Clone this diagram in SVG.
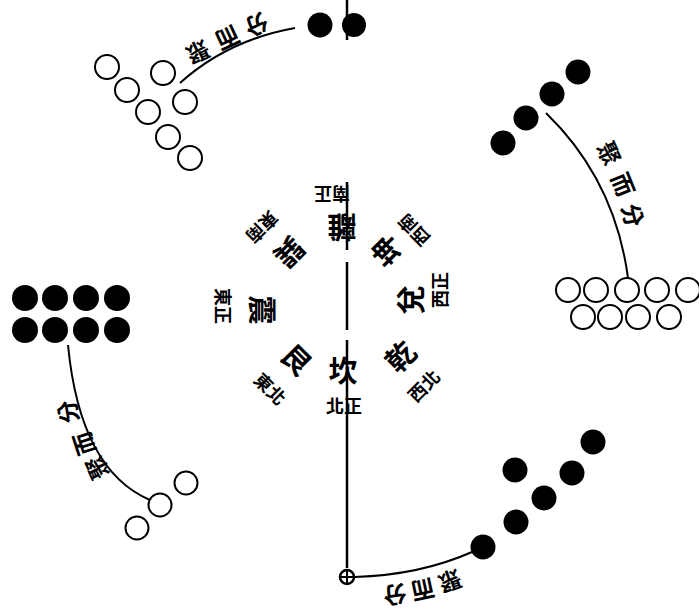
<svg xmlns="http://www.w3.org/2000/svg" width="699" height="615" viewBox="0 0 699 615">
<style>
.bk{fill:#000}
.wh{fill:#fff;stroke:#000;stroke-width:2}
.cv{fill:none;stroke:#000;stroke-width:2}
.ax{fill:none;stroke:#000;stroke-width:2.5}
text{font-family:"Noto Sans CJK TC","Noto Sans CJK SC",sans-serif;font-weight:bold;text-anchor:middle;dominant-baseline:central;fill:#000}
.big{font-size:29px}
.sm{font-size:18px}
.lb{font-size:23px}
</style>
<rect width="699" height="615" fill="#fff"/>
<g id="connectors">
<path class="ax" d="M347,0 V40 M347,182 V250 M347,262 V330 M347,340 V568"/>
<path class="cv" d="M180,83 Q228,40 295,28"/>
<path class="cv" d="M546,113 Q615,180 628,278"/>
<path class="cv" d="M68,345 Q80,470 150,500"/>
<path class="cv" d="M355,577 Q420,575 472,552"/>
</g>
<g id="top-group">
<circle class="bk" cx="320" cy="25" r="12.5"/>
<circle class="bk" cx="354" cy="25" r="12"/>
</g>
<g id="upper-left-group">
<circle class="wh" cx="107" cy="67" r="12"/>
<circle class="wh" cx="127" cy="90" r="12"/>
<circle class="wh" cx="148" cy="112" r="12"/>
<circle class="wh" cx="168" cy="137" r="12"/>
<circle class="wh" cx="190" cy="158" r="12"/>
<circle class="wh" cx="163" cy="73" r="12"/>
<circle class="wh" cx="185" cy="102" r="12"/>
</g>
<g id="upper-right-black">
<circle class="bk" cx="578" cy="72" r="12.5"/>
<circle class="bk" cx="552" cy="94" r="12.5"/>
<circle class="bk" cx="526" cy="118" r="12.5"/>
<circle class="bk" cx="503" cy="143" r="12.5"/>
</g>
<g id="right-white">
<circle class="wh" cx="568" cy="290" r="12"/>
<circle class="wh" cx="596" cy="290" r="12"/>
<circle class="wh" cx="627" cy="290" r="12"/>
<circle class="wh" cx="657" cy="290" r="12"/>
<circle class="wh" cx="688" cy="290" r="12"/>
<circle class="wh" cx="583" cy="317" r="12"/>
<circle class="wh" cx="610" cy="317" r="12"/>
<circle class="wh" cx="638" cy="317" r="12"/>
<circle class="wh" cx="669" cy="317" r="12"/>
</g>
<g id="left-black">
<circle class="bk" cx="25" cy="298" r="13"/>
<circle class="bk" cx="55" cy="298" r="13"/>
<circle class="bk" cx="86" cy="298" r="13"/>
<circle class="bk" cx="117" cy="298" r="13"/>
<circle class="bk" cx="25" cy="330" r="13"/>
<circle class="bk" cx="55" cy="330" r="13"/>
<circle class="bk" cx="86" cy="330" r="13"/>
<circle class="bk" cx="117" cy="330" r="13"/>
</g>
<g id="lower-left-white">
<circle class="wh" cx="186" cy="483" r="11.5"/>
<circle class="wh" cx="160" cy="505" r="11.5"/>
<circle class="wh" cx="137" cy="528" r="11.5"/>
</g>
<g id="lower-right-black">
<circle class="bk" cx="593" cy="442" r="12.5"/>
<circle class="bk" cx="572" cy="473" r="12.5"/>
<circle class="bk" cx="515" cy="470" r="12.5"/>
<circle class="bk" cx="544" cy="498" r="12.5"/>
<circle class="bk" cx="516" cy="522" r="12.5"/>
<circle class="bk" cx="483" cy="547" r="12.5"/>
</g>
<g id="origin-mark">
<circle cx="347" cy="577" r="7" fill="#fff" stroke="#000" stroke-width="2.5"/>
<path d="M340,577 H354 M347,570 V584" stroke="#000" stroke-width="2"/>
</g>
<g id="labels">
<text class="lb" transform="translate(257,26) rotate(155)">分</text>
<text class="lb" transform="translate(228,39) rotate(155)">而</text>
<text class="lb" transform="translate(198,53) rotate(155)">聚</text>
<text class="lb" transform="translate(610,153) rotate(65)">聚</text>
<text class="lb" transform="translate(624,184) rotate(68)">而</text>
<text class="lb" transform="translate(634,215) rotate(75)">分</text>
<text class="lb" transform="translate(96,468) rotate(-115)">聚</text>
<text class="lb" transform="translate(83,444) rotate(-108)">而</text>
<text class="lb" transform="translate(67,412) rotate(-100)">分</text>
<text class="lb" transform="translate(450,582) rotate(160)">聚</text>
<text class="lb" transform="translate(423,591) rotate(168)">而</text>
<text class="lb" transform="translate(395,596) rotate(172)">分</text>
</g>
<g id="li">
<text class="big" transform="translate(342,229) rotate(180)">離</text>
<text class="sm" transform="translate(332,195) rotate(180)">南正</text>
</g>
<g id="kun">
<text class="big" transform="translate(385,252) rotate(-135)">坤</text>
<text class="sm" transform="translate(413,231) rotate(-135)">西南</text>
</g>
<g id="dui">
<text class="big" transform="translate(409,300) rotate(-90)">兌</text>
<text class="sm" transform="translate(439,290) rotate(-90)">西正</text>
</g>
<g id="qian">
<text class="big" transform="translate(399,355) rotate(-45)">乾</text>
<text class="sm" transform="translate(423,385) rotate(-45)">西北</text>
</g>
<g id="kan">
<text class="big" transform="translate(343,369)">坎</text>
<text class="sm" transform="translate(344,405)">北正</text>
</g>
<g id="gen">
<text class="big" transform="translate(298,358) rotate(45)">艮</text>
<text class="sm" transform="translate(271,388) rotate(45)">東北</text>
</g>
<g id="zhen">
<text class="big" transform="translate(264,310) rotate(90)">震</text>
<text class="sm" transform="translate(224,306) rotate(90)">東正</text>
</g>
<g id="xun">
<text class="big" transform="translate(291,254) rotate(135)">巽</text>
<text class="sm" transform="translate(263,228) rotate(135)">東南</text>
</g>
</svg>
